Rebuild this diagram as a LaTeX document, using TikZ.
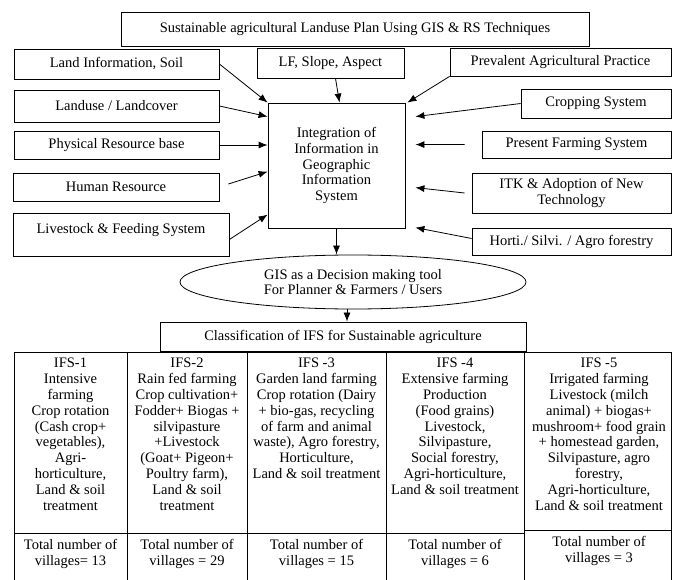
\documentclass[tikz,border=0pt]{standalone}
\usepackage{fontspec}
\setmainfont{Liberation Serif}
\usetikzlibrary{arrows.meta,shapes.geometric}
\begin{document}
\begin{tikzpicture}[x=1pt,y=-1pt,
  txt/.style={font=\fontsize{14.5}{15.8}\selectfont, align=center, inner sep=0pt},
  box/.style={txt, draw, line width=0.8pt},
  arr/.style={-{Latex[length=9pt,width=7pt]}, line width=0.8pt},
  tbl/.style={line width=0.8pt},
  cell/.style={txt, anchor=north}]
\useasboundingbox (0,0) rectangle (673,580);
% top title
\node[box, minimum width=468pt, minimum height=34pt] (title) at (355,29) {Sustainable agricultural Landuse Plan Using GIS \& RS Techniques};
% left boxes
\node[box, minimum width=205pt, minimum height=30pt] (li) at (116.5,64) {Land Information, Soil};
\node[box, minimum width=205pt, minimum height=32pt] (lu) at (116.5,106) {Landuse / Landcover};
\node[box, minimum width=205pt, minimum height=28pt] (pr) at (116.5,145) {Physical Resource base};
\node[box, minimum width=206pt, minimum height=28pt] (hr) at (116,187) {Human Resource};
\node[box, minimum width=216pt, minimum height=43pt, text depth=13pt] (ls) at (121,234.5) {Livestock \& Feeding System};
% top middle
\node[box, minimum width=147pt, minimum height=30pt] (lf) at (330.5,63) {LF, Slope, Aspect};
% right boxes
\node[box, minimum width=221pt, minimum height=28pt] (pa) at (560.5,62) {Prevalent Agricultural Practice};
\node[box, minimum width=150pt, minimum height=29pt] (cs) at (596,103.5) {Cropping System};
\node[box, minimum width=189pt, minimum height=27pt] (pf) at (576.5,144.5) {Present Farming System};
\node[box, minimum width=199pt, minimum height=40pt] (itk) at (571.5,193) {ITK \& Adoption of New\\Technology};
\node[box, minimum width=199pt, minimum height=27pt] (hs) at (571.5,241.5) {Horti./ Silvi. / Agro forestry};
% centre
\node[box, minimum width=137pt, minimum height=125pt] (ctr) at (336.5,165.5) {Integration of\\Information in\\Geographic\\Information\\System};
\node[box, ellipse, minimum width=346pt, minimum height=54pt] (ell) at (353,282) {GIS as a Decision making tool\\For Planner \& Farmers / Users};
\node[box, minimum width=366pt, minimum height=29pt] (cls) at (343,336.5) {Classification of IFS for Sustainable agriculture};
% arrows into centre
\draw[arr] (li.east) -- (ctr.north west);
\draw[arr] (lu.east) -- ([yshift=-14pt]ctr.north west);
\draw[arr] (pr.east) -- (pr.east -| ctr.west);
\draw[arr] ([xshift=9pt,yshift=3pt]hr.east) -- ([yshift=-69pt]ctr.north west);
\draw[arr] ([yshift=-5pt]ls.east) -- ([yshift=-112pt]ctr.north west);
\draw[arr] ([xshift=5pt]lf.south) -- ([xshift=3pt]ctr.north);
\draw[arr] (pa.south west) -- ([xshift=2pt]ctr.north east);
\draw[arr] (cs.west) -- ([xshift=10pt,yshift=-14pt]ctr.north east);
\draw[arr] ([xshift=-17pt]pf.west) -- ([xshift=10pt,yshift=-42pt]ctr.north east);
\draw[arr] ([xshift=-7pt]itk.west) -- ([xshift=10pt,yshift=-85pt]ctr.north east);
\draw[arr] ([yshift=3pt]hs.west) -- ([xshift=10pt,yshift=-125pt]ctr.north east);
\draw[arr] (ctr.south) -- (ctr.south |- ell.north);
\draw[arr] ([xshift=-6pt]ell.south) -- ([xshift=-6pt]ell.south |- cls.north);
% table
\draw[tbl] (14,352) -- (671,352);
\foreach \xx in {14,127,247,386,524,671} \draw[tbl] (\xx,352) -- (\xx,580);
\draw[tbl] (14,533) -- (524,533);
\draw[tbl] (524,530) -- (671,530);
\node[cell] (c1) at (70.5,358) {IFS-1\\Intensive\\farming\\Crop rotation\\(Cash crop+\\vegetables),\\Agri-\\horticulture,\\Land \& soil\\treatment};
\node[cell] (c2) at (187,358) {IFS-2\\Rain fed farming\\Crop cultivation+\\Fodder+ Biogas +\\silvipasture\\+Livestock\\(Goat+ Pigeon+\\Poultry farm),\\Land \& soil\\treatment};
\node[cell] (c3) at (316.5,358) {IFS -3\\Garden land farming\\Crop rotation (Dairy\\+ bio-gas, recycling\\of farm and animal\\waste), Agro forestry,\\Horticulture,\\Land \& soil treatment};
\node[cell] (c4) at (455,358) {IFS -4\\Extensive farming\\Production\\(Food grains)\\Livestock,\\Silvipasture,\\Social forestry,\\Agri-horticulture,\\Land \& soil treatment};
\node[cell] (c5) at (599,358) {IFS -5\\Irrigated farming\\Livestock (milch\\animal) + biogas+\\mushroom+ food grain\\+ homestead garden,\\Silvipasture, agro\\forestry,\\Agri-horticulture,\\Land \& soil treatment};
\node[cell] (t1) at (70.5,539) {Total number of\\villages= 13};
\node[cell] (t2) at (187,539) {Total number of\\villages = 29};
\node[cell] (t3) at (316.5,539) {Total number of\\villages = 15};
\node[cell] (t4) at (455,539) {Total number of\\villages = 6};
\node[cell] (t5) at (599,536) {Total number of\\villages = 3};
\end{tikzpicture}
\end{document}
